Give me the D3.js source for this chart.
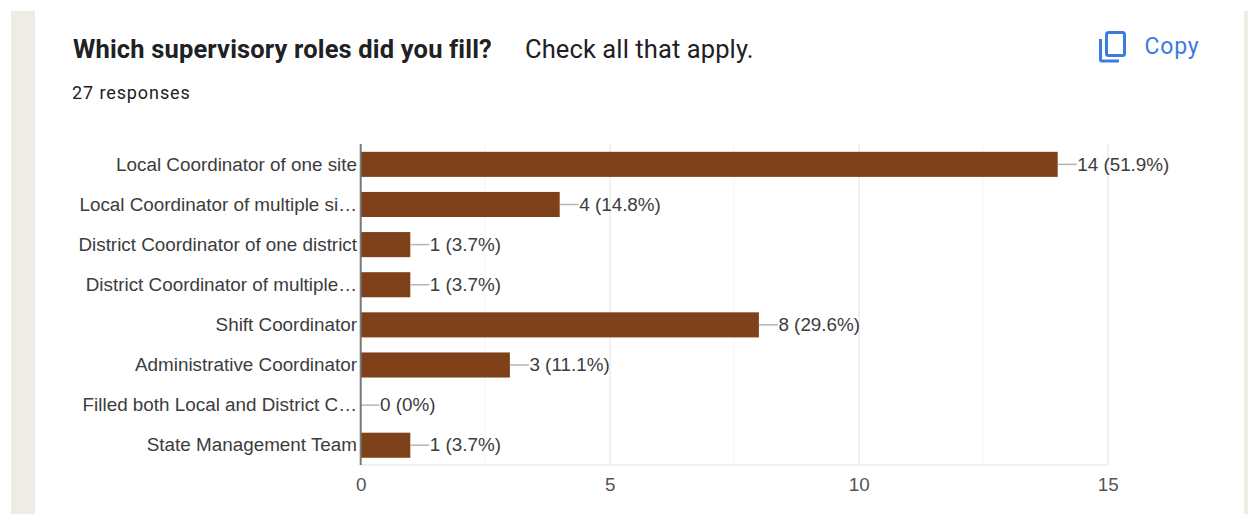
<!DOCTYPE html>
<html><head><meta charset="utf-8">
<script src="https://cdn.jsdelivr.net/npm/d3@7/dist/d3.min.js"></script>
<style>html,body{margin:0;padding:0;background:#fff;overflow:hidden}svg{display:block}</style>
</head><body><svg id="c" width="1248" height="514"></svg>
<script>
const categories=["Local Coordinator of one site","Local Coordinator of multiple si…","District Coordinator of one district","District Coordinator of multiple…","Shift Coordinator","Administrative Coordinator","Filled both Local and District C…","State Management Team"];
const counts=[14,4,1,1,8,3,0,1];
const percents=["51.9%","14.8%","3.7%","3.7%","29.6%","11.1%","0%","3.7%"];
const ticks=[0,5,10,15];
const minorTicks=[2.5,7.5,12.5];
const svg=d3.select("#c");
svg.append("rect").attr("x",11).attr("y",11).attr("width",24).attr("height",503).attr("fill","#efebe5");
svg.append("rect").attr("x",1244).attr("y",11).attr("width",4).attr("height",503).attr("fill","#efebe5");
const x=d3.scaleLinear().domain([0,15]).range([360.5,1107.5]);
const y=d3.scaleBand().domain(categories).range([144.3,465.3]).paddingInner(0.375).paddingOuter(0.1875);
const sans="Roboto";const arial="'Liberation Sans'";
svg.append("text").attr("x",73).attr("y",58).attr("font-family",sans).attr("font-weight",700).attr("font-size",25.5).attr("letter-spacing",0.16).attr("fill","#202124").text("Which supervisory roles did you fill?");
svg.append("text").attr("x",525).attr("y",58).attr("font-family",sans).attr("font-size",25.5).attr("letter-spacing",0.1).attr("fill","#202124").text("Check all that apply.");
svg.append("text").attr("x",72).attr("y",99).attr("font-family",sans).attr("font-size",18).attr("letter-spacing",0.9).attr("fill","#202124").text("27 responses");
svg.append("text").attr("x",1144.5).attr("y",53.5).attr("font-family",sans).attr("font-size",23).attr("letter-spacing",0.8).attr("fill","#3c7be0").text("Copy");
const ic=svg.append("g").attr("fill","none").attr("stroke","#3c7be0").attr("stroke-width",3);
ic.append("rect").attr("x",1106.5).attr("y",32.5).attr("width",18).attr("height",23).attr("rx",2);
ic.append("path").attr("d","M1100.5 39V59.5a1.5 1.5 0 0 0 1.5 1.5H1119");
const g=svg.append("g");
g.selectAll("line.grid").data(minorTicks).join("line").attr("x1",d=>x(d)).attr("x2",d=>x(d)).attr("y1",144).attr("y2",465).attr("stroke","#f5f5f5");
g.selectAll("line.major").data(ticks.slice(1)).join("line").attr("x1",d=>x(d)+0.5).attr("x2",d=>x(d)+0.5).attr("y1",144).attr("y2",465).attr("stroke","#ebebeb").attr("stroke-width",1.5);
g.append("line").attr("x1",361).attr("x2",1108).attr("y1",465).attr("y2",465).attr("stroke","#ebebeb").attr("stroke-width",1.5);
g.selectAll("rect.bar").data(counts).join("rect").attr("x",x(0)).attr("y",(d,i)=>y(categories[i])).attr("width",d=>x(d)-x(0)).attr("height",y.bandwidth()).attr("fill","#7f4119");
g.selectAll("line.lead").data(counts).join("line").attr("x1",d=>x(d)).attr("x2",d=>x(d)+19).attr("y1",(d,i)=>y(categories[i])+y.bandwidth()/2).attr("y2",(d,i)=>y(categories[i])+y.bandwidth()/2).attr("stroke","#b5b5b5").attr("stroke-width",1.5);
g.selectAll("text.val").data(counts).join("text").attr("x",d=>x(d)+19.5).attr("y",(d,i)=>y(categories[i])+y.bandwidth()/2+6.2).attr("font-family",arial).attr("font-size",18.85).attr("fill","#3c3c3c").text((d,i)=>`${d} (${percents[i]})`);
g.selectAll("text.cat").data(categories).join("text").attr("x",357).attr("y",d=>y(d)+y.bandwidth()/2+6.2).attr("text-anchor","end").attr("font-family",arial).attr("font-size",18.85).attr("fill","#3c3c3c").text(d=>d);
g.append("line").attr("x1",360.7).attr("x2",360.7).attr("y1",144).attr("y2",465).attr("stroke","#777").attr("stroke-width",2);
g.selectAll("text.tick").data(ticks).join("text").attr("x",d=>x(d)+0.7).attr("y",491).attr("text-anchor","middle").attr("font-family",arial).attr("font-size",18.85).attr("fill","#555").text(d=>d);
</script></body></html>
